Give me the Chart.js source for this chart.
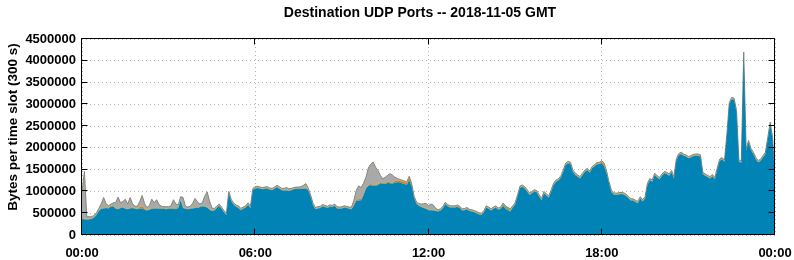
<!DOCTYPE html>
<html>
<head>
<meta charset="utf-8">
<script src="https://cdn.jsdelivr.net/npm/chart.js@4.4.0/dist/chart.umd.min.js"></script>
<style>
  html, body { margin: 0; padding: 0; background: #fff; }
</style>
</head>
<body>
<canvas id="c" width="794" height="260"></canvas>
<script>
const chartTitle = 'Destination UDP Ports -- 2018-11-05 GMT'
const yTitle = 'Bytes per time slot (300 s)'
const xTickLabels = ['00:00', '06:00', '12:00', '18:00', '00:00']
const yTickLabels = ['0', '500000', '1000000', '1500000', '2000000', '2500000', '3000000', '3500000', '4000000', '4500000']

// one value per 300 s slot, in millions of bytes (00:00 .. 24:00)
const blue = [
  0.37,0.36,0.35,0.36,0.37,0.40,0.46,0.55,0.60,0.61,0.62,0.61,
  0.65,0.66,0.60,0.59,0.62,0.63,0.60,0.59,0.61,0.62,0.60,0.59,
  0.60,0.61,0.58,0.56,0.58,0.60,0.60,0.61,0.60,0.60,0.60,0.59,
  0.60,0.60,0.60,0.59,0.62,0.80,0.62,0.60,0.59,0.60,0.61,0.62,
  0.62,0.64,0.66,0.65,0.63,0.58,0.55,0.56,0.62,0.67,0.60,0.52,
  0.46,0.96,0.78,0.70,0.65,0.62,0.57,0.60,0.63,0.69,0.62,1.03,
  1.07,1.08,1.06,1.05,1.06,1.07,1.04,1.03,1.06,1.10,1.06,1.03,
  1.02,1.02,1.01,1.03,1.05,1.06,1.06,1.06,1.06,1.07,1.03,0.88,
  0.69,0.59,0.61,0.62,0.66,0.64,0.62,0.65,0.64,0.67,0.61,0.60,
  0.61,0.63,0.62,0.60,0.59,0.68,0.79,0.79,0.80,0.92,1.07,1.13,
  1.15,1.13,1.13,1.15,1.19,1.18,1.17,1.20,1.19,1.18,1.20,1.21,
  1.21,1.19,1.17,1.15,1.26,1.12,0.85,0.72,0.67,0.64,0.62,0.60,
  0.57,0.57,0.56,0.55,0.54,0.56,0.62,0.71,0.66,0.63,0.63,0.63,
  0.65,0.62,0.56,0.57,0.59,0.55,0.54,0.52,0.50,0.47,0.46,0.52,
  0.63,0.60,0.56,0.60,0.63,0.58,0.60,0.67,0.61,0.57,0.54,0.63,
  0.70,0.88,1.08,1.11,1.07,1.00,0.92,0.96,1.00,0.98,0.88,0.80,
  0.96,0.90,0.86,1.00,1.15,1.22,1.25,1.32,1.45,1.61,1.65,1.63,
  1.45,1.38,1.34,1.30,1.38,1.45,1.49,1.43,1.53,1.58,1.62,1.63,
  1.65,1.57,1.42,1.19,0.99,0.93,0.92,0.93,0.94,0.93,0.90,0.85,
  0.79,0.79,0.76,0.73,0.84,0.77,0.84,1.15,1.26,1.22,1.38,1.32,
  1.28,1.36,1.42,1.40,1.36,1.44,1.30,1.71,1.83,1.86,1.82,1.80,
  1.76,1.78,1.81,1.82,1.82,1.80,1.40,1.36,1.33,1.30,1.35,1.28,
  1.50,1.70,1.74,1.68,2.28,3.00,3.12,3.10,2.82,1.68,1.66,4.16,
  1.94,2.13,1.95,1.86,1.74,1.67,1.70,1.78,1.86,2.20,2.55,2.20,
  1.32
]
const orange = [
  0.012,0.012,0.012,0.012,0.012,0.012,0.012,0.012,0.012,0.012,0.012,0.012,
  0.02,0.02,0.02,0.012,0.012,0.012,0.012,0.012,0.012,0.012,0.012,0.012,
  0.04,0.05,0.03,0.012,0.012,0.012,0.012,0.012,0.012,0.012,0.012,0.012,
  0.012,0.012,0.012,0.012,0.012,0.012,0.012,0.012,0.012,0.012,0.012,0.012,
  0.012,0.012,0.012,0.012,0.012,0.012,0.012,0.012,0.012,0.012,0.012,0.012,
  0.012,0.012,0.012,0.012,0.012,0.012,0.012,0.012,0.012,0.012,0.012,0.012,
  0.012,0.012,0.012,0.012,0.012,0.012,0.012,0.012,0.012,0.012,0.012,0.012,
  0.012,0.012,0.012,0.012,0.012,0.012,0.012,0.012,0.012,0.012,0.012,0.012,
  0.012,0.012,0.012,0.012,0.012,0.012,0.012,0.012,0.012,0.012,0.012,0.012,
  0.012,0.012,0.012,0.012,0.012,0.03,0.03,0.03,0.03,0.03,0.02,0.02,
  0.02,0.02,0.02,0.02,0.02,0.02,0.02,0.02,0.02,0.02,0.04,0.04,
  0.04,0.04,0.04,0.05,0.06,0.03,0.012,0.012,0.012,0.012,0.012,0.012,
  0.012,0.012,0.012,0.012,0.012,0.012,0.012,0.012,0.012,0.012,0.012,0.012,
  0.012,0.012,0.012,0.012,0.012,0.012,0.012,0.012,0.012,0.012,0.012,0.012,
  0.012,0.012,0.012,0.012,0.012,0.012,0.012,0.012,0.012,0.012,0.012,0.012,
  0.012,0.012,0.012,0.012,0.012,0.012,0.012,0.012,0.012,0.012,0.012,0.012,
  0.012,0.012,0.012,0.012,0.012,0.012,0.012,0.012,0.012,0.012,0.012,0.012,
  0.012,0.012,0.012,0.012,0.012,0.012,0.012,0.012,0.012,0.012,0.012,0.012,
  0.03,0.05,0.02,0.012,0.012,0.012,0.012,0.012,0.012,0.012,0.012,0.012,
  0.012,0.012,0.012,0.012,0.012,0.012,0.012,0.012,0.012,0.012,0.012,0.012,
  0.012,0.012,0.012,0.012,0.012,0.012,0.012,0.012,0.012,0.012,0.012,0.012,
  0.012,0.012,0.012,0.012,0.012,0.012,0.012,0.012,0.012,0.012,0.012,0.012,
  0.012,0.012,0.012,0.012,0.012,0.012,0.012,0.012,0.012,0.012,0.012,0.012,
  0.012,0.012,0.012,0.012,0.012,0.012,0.012,0.012,0.012,0.012,0.012,0.012,
  0.012
]
const green = [
  0.008,0.008,0.008,0.008,0.008,0.008,0.008,0.008,0.008,0.008,0.008,0.008,
  0.008,0.008,0.008,0.008,0.008,0.008,0.008,0.008,0.008,0.008,0.008,0.008,
  0.008,0.008,0.008,0.008,0.008,0.008,0.008,0.008,0.008,0.008,0.008,0.008,
  0.008,0.008,0.008,0.03,0.008,0.008,0.008,0.008,0.008,0.008,0.008,0.008,
  0.008,0.008,0.008,0.008,0.008,0.008,0.008,0.008,0.008,0.008,0.008,0.008,
  0.008,0.008,0.008,0.008,0.008,0.008,0.008,0.008,0.008,0.008,0.008,0.008,
  0.008,0.008,0.008,0.008,0.008,0.008,0.008,0.008,0.008,0.008,0.008,0.008,
  0.008,0.008,0.008,0.008,0.008,0.008,0.008,0.008,0.008,0.008,0.008,0.008,
  0.008,0.008,0.008,0.008,0.008,0.008,0.008,0.008,0.008,0.008,0.008,0.008,
  0.008,0.008,0.008,0.008,0.008,0.008,0.008,0.008,0.008,0.008,0.008,0.008,
  0.008,0.008,0.008,0.008,0.008,0.008,0.008,0.008,0.008,0.008,0.008,0.008,
  0.008,0.008,0.008,0.008,0.008,0.008,0.008,0.008,0.008,0.008,0.008,0.008,
  0.008,0.008,0.008,0.008,0.008,0.008,0.008,0.008,0.008,0.008,0.008,0.008,
  0.008,0.008,0.008,0.008,0.008,0.008,0.008,0.008,0.008,0.008,0.008,0.008,
  0.008,0.008,0.008,0.008,0.008,0.008,0.008,0.03,0.03,0.03,0.03,0.008,
  0.008,0.008,0.008,0.008,0.008,0.008,0.008,0.008,0.008,0.008,0.008,0.008,
  0.008,0.008,0.008,0.008,0.008,0.008,0.008,0.008,0.008,0.008,0.008,0.008,
  0.008,0.008,0.008,0.008,0.008,0.008,0.008,0.008,0.008,0.008,0.008,0.008,
  0.008,0.008,0.008,0.008,0.008,0.008,0.008,0.008,0.008,0.008,0.008,0.008,
  0.008,0.008,0.008,0.008,0.008,0.008,0.008,0.008,0.008,0.008,0.008,0.008,
  0.008,0.008,0.008,0.008,0.008,0.008,0.008,0.008,0.008,0.008,0.008,0.008,
  0.008,0.008,0.008,0.008,0.008,0.008,0.008,0.008,0.008,0.008,0.008,0.008,
  0.008,0.008,0.008,0.008,0.008,0.008,0.008,0.008,0.008,0.008,0.008,0.008,
  0.008,0.008,0.008,0.008,0.008,0.008,0.008,0.008,0.008,0.008,0.008,0.008,
  0.008
]
const gray = [
  0.60,1.08,0.05,0.04,0.03,0.03,0.03,0.04,0.10,0.23,0.08,0.04,
  0.03,0.05,0.12,0.26,0.10,0.12,0.20,0.10,0.23,0.08,0.04,0.05,
  0.12,0.24,0.10,0.05,0.08,0.20,0.12,0.18,0.08,0.04,0.03,0.04,
  0.03,0.05,0.19,0.08,0.05,0.06,0.22,0.04,0.03,0.04,0.10,0.20,
  0.12,0.05,0.06,0.22,0.34,0.18,0.05,0.03,0.02,0.02,0.02,0.02,
  0.02,0.02,0.02,0.02,0.02,0.03,0.02,0.02,0.02,0.03,0.02,0.02,
  0.02,0.02,0.02,0.02,0.02,0.02,0.02,0.02,0.02,0.02,0.03,0.02,
  0.03,0.05,0.03,0.02,0.02,0.02,0.02,0.03,0.06,0.09,0.03,0.02,
  0.02,0.02,0.02,0.02,0.02,0.02,0.02,0.02,0.02,0.02,0.02,0.02,
  0.02,0.02,0.02,0.02,0.03,0.08,0.20,0.30,0.25,0.23,0.23,0.38,
  0.45,0.52,0.40,0.30,0.15,0.08,0.13,0.14,0.19,0.17,0.08,0.04,
  0.02,0.02,0.02,0.02,0.02,0.02,0.02,0.02,0.03,0.05,0.08,0.10,
  0.08,0.12,0.11,0.04,0.02,0.02,0.02,0.02,0.02,0.02,0.02,0.02,
  0.02,0.02,0.02,0.02,0.02,0.02,0.02,0.02,0.02,0.02,0.02,0.02,
  0.02,0.02,0.02,0.02,0.02,0.02,0.02,0.02,0.02,0.02,0.02,0.02,
  0.02,0.02,0.02,0.02,0.02,0.02,0.02,0.02,0.02,0.02,0.02,0.02,
  0.02,0.02,0.02,0.02,0.02,0.02,0.02,0.02,0.02,0.02,0.02,0.02,
  0.02,0.02,0.02,0.02,0.02,0.02,0.02,0.02,0.02,0.02,0.02,0.02,
  0.02,0.02,0.02,0.02,0.02,0.02,0.02,0.02,0.02,0.02,0.02,0.02,
  0.02,0.02,0.02,0.02,0.02,0.02,0.02,0.02,0.02,0.02,0.02,0.02,
  0.02,0.02,0.02,0.02,0.02,0.02,0.02,0.02,0.02,0.02,0.02,0.02,
  0.02,0.02,0.02,0.02,0.02,0.02,0.02,0.02,0.02,0.02,0.02,0.02,
  0.02,0.02,0.02,0.02,0.02,0.02,0.02,0.02,0.02,0.02,0.02,0.02,
  0.02,0.02,0.02,0.02,0.02,0.02,0.02,0.02,0.02,0.02,0.02,0.02,
  0.02
]

const tickFont = { family: 'Liberation Sans', weight: 'bold', size: 13 }

const toPoints = vals => vals.map((v, i) => ({ x: i, y: v }))

const area = (label, vals, color, fill, border) => ({
  label,
  data: toPoints(vals),
  backgroundColor: color,
  borderColor: border || 'rgba(0,0,0,0)',
  borderWidth: 1,
  fill,
  pointRadius: 0,
  tension: 0
})

// frame, inner tick marks and the two titles, gnuplot style
const frame = {
  id: 'frame',
  afterDraw(chart) {
    const { ctx, chartArea: a, scales } = chart
    const l = Math.round(a.left) - 0.5, r = Math.round(a.right) - 0.5
    const t = Math.round(a.top) - 0.5, b = Math.round(a.bottom) - 0.5
    ctx.save()
    ctx.strokeStyle = '#000'
    ctx.lineWidth = 1
    ctx.beginPath()
    ctx.rect(l, t, r - l, b - t)
    yTickLabels.forEach((_, i) => {
      const y = Math.round(scales.y.getPixelForValue(i * 0.5)) - 0.5
      ctx.moveTo(l, y); ctx.lineTo(l + 6, y)
      ctx.moveTo(r, y); ctx.lineTo(r - 6, y)
    })
    xTickLabels.forEach((_, i) => {
      const x = Math.round(scales.x.getPixelForValue(i * 72)) - 0.5
      ctx.moveTo(x, b); ctx.lineTo(x, b - 6)
      ctx.moveTo(x, t); ctx.lineTo(x, t + 6)
    })
    ctx.stroke()

    ctx.fillStyle = '#000'
    ctx.textAlign = 'center'
    ctx.textBaseline = 'middle'
    ctx.font = 'bold 14px "Liberation Sans"'
    ctx.fillText(chartTitle, 420, 13)
    ctx.translate(13, 127)
    ctx.rotate(-Math.PI / 2)
    ctx.font = 'bold 13.5px "Liberation Sans"'
    ctx.fillText(yTitle, 0, 0)
    ctx.restore()
  }
}

new Chart(document.getElementById('c'), {
  type: 'line',
  data: {
    datasets: [
      area('blue', blue, '#0283b5', 'origin'),
      area('orange', orange, '#e07a10', '-1'),
      area('green', green, '#6a9a2a', '-1'),
      area('gray', gray, '#a9a9a9', '-1', '#85857a')
    ]
  },
  options: {
    responsive: false,
    animation: false,
    layout: { padding: { top: 39, right: 19, left: 0, bottom: 0 } },
    plugins: { legend: { display: false }, tooltip: { enabled: false } },
    scales: {
      x: {
        type: 'linear',
        min: 0,
        max: 288,
        afterFit: s => { s.height = 25; s.paddingLeft = 0; s.paddingRight = 0 },
        grid: { color: '#b4b4b4', drawTicks: false },
        border: { display: false, dash: [1, 3] },
        ticks: {
          stepSize: 72,
          padding: 11,
          maxRotation: 0,
          autoSkip: false,
          color: '#000',
          font: tickFont,
          callback: v => xTickLabels[v / 72]
        }
      },
      y: {
        stacked: true,
        min: 0,
        max: 4.5,
        afterFit: s => { s.width = 82; s.paddingTop = 0; s.paddingBottom = 0 },
        grid: { color: '#b4b4b4', drawTicks: false },
        border: { display: false, dash: [1, 3] },
        ticks: {
          stepSize: 0.5,
          padding: 6,
          color: '#000',
          font: tickFont,
          callback: (v, i) => yTickLabels[i]
        }
      }
    }
  },
  plugins: [frame]
})
</script>
</body>
</html>
